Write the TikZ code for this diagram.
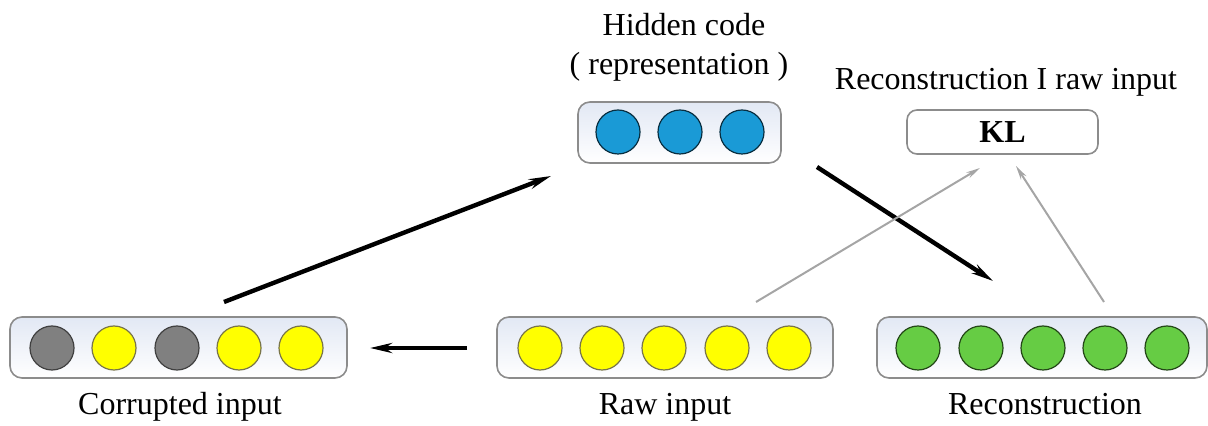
\documentclass[tikz,border=0pt]{standalone}
\usepackage{fontspec}
\setmainfont{Liberation Serif}
\usetikzlibrary{arrows.meta}
\definecolor{boxtop}{RGB}{226,232,244}
\definecolor{boxline}{RGB}{140,140,140}
\definecolor{grayunit}{RGB}{128,128,128}
\definecolor{yellowunit}{RGB}{255,255,0}
\definecolor{blueunit}{RGB}{26,154,214}
\definecolor{greenunit}{RGB}{102,204,68}
\definecolor{graylink}{RGB}{165,165,165}
\begin{document}
\begin{tikzpicture}[x=0.5pt,y=-0.5pt,
  layerbox/.style={draw=boxline, rounded corners=6pt, line width=0.8pt,
    top color=boxtop, bottom color=white, minimum height=30.5pt, inner sep=0pt},
  klbox/.style={draw=boxline, rounded corners=5pt, line width=0.8pt, fill=white,
    minimum width=95.5pt, minimum height=22pt, inner sep=0pt,
    font=\fontsize{16}{19}\selectfont\bfseries},
  unit/.style={circle, minimum size=22pt, inner sep=0pt, line width=0.6pt},
  gunit/.style={unit, fill=grayunit, draw=black!75},
  yunit/.style={unit, fill=yellowunit, draw=black!60!yellow},
  bunit/.style={unit, fill=blueunit, draw=black!70!blueunit},
  nunit/.style={unit, fill=greenunit, draw=black!65!greenunit},
  lbl/.style={font=\fontsize{16}{19}\selectfont, inner sep=0pt, anchor=base},
  mainarrow/.style={line width=2.2pt, -{Stealth[length=11pt,width=5pt]}},
  sidearrow/.style={draw=graylink, line width=1pt, -{Stealth[length=7pt,width=3.2pt]}}
]
\useasboundingbox (0,0) rectangle (1208,426);

% layer boxes
\node[layerbox, minimum width=168.5pt] (corr) at (178.5,347.5) {};
\node[layerbox, minimum width=168pt] (raw) at (665,347.5) {};
\node[layerbox, minimum width=165pt] (rec) at (1042,347.5) {};
\node[layerbox, minimum width=101.5pt] (hid) at (679.5,132.5) {};
\node[klbox] (kl) at (1002.5,132) {KL};

% units
\node[gunit] (c1) at (52,348) {};
\node[yunit] (c2) at (114,348) {};
\node[gunit] (c3) at (177,348) {};
\node[yunit] (c4) at (239,348) {};
\node[yunit] (c5) at (301,348) {};

\node[yunit] (r1) at (540,348) {};
\node[yunit] (r2) at (602,348) {};
\node[yunit] (r3) at (664,348) {};
\node[yunit] (r4) at (727,348) {};
\node[yunit] (r5) at (789,348) {};

\node[nunit] (n1) at (918,348) {};
\node[nunit] (n2) at (981,348) {};
\node[nunit] (n3) at (1043,348) {};
\node[nunit] (n4) at (1105,348) {};
\node[nunit] (n5) at (1167,348) {};

\node[bunit] (h1) at (618,132) {};
\node[bunit] (h2) at (680,132) {};
\node[bunit] (h3) at (742,132) {};

% labels
\node[lbl] (lcorr) at (180,415) {Corrupted input};
\node[lbl] (lraw) at (665,415) {Raw input};
\node[lbl] (lrec) at (1045,415) {Reconstruction};
\node[lbl] (lhid1) at (684,36) {Hidden code};
\node[lbl] (lhid2) at (679,75) {( representation )};
\node[lbl] (lkl) at (1006,90) {Reconstruction I raw input};

% arrow end points
\coordinate (a1s) at (224,302);
\coordinate (a1e) at (551,176);
\coordinate (a2s) at (817,167);
\coordinate (a2e) at (993,281);
\coordinate (a3s) at (467,348);
\coordinate (a3e) at (370,348);
\coordinate (a4s) at (756,302);
\coordinate (a4e) at (980,168);
\coordinate (a5s) at (1104,302);
\coordinate (a5e) at (1016,166);

\draw[mainarrow] (a1s) -- (a1e);
\draw[mainarrow] (a2s) -- (a2e);
\draw[mainarrow] (a3s) -- (a3e);
\draw[sidearrow] (a4s) -- (a4e);
\draw[sidearrow] (a5s) -- (a5e);
\end{tikzpicture}
\end{document}
